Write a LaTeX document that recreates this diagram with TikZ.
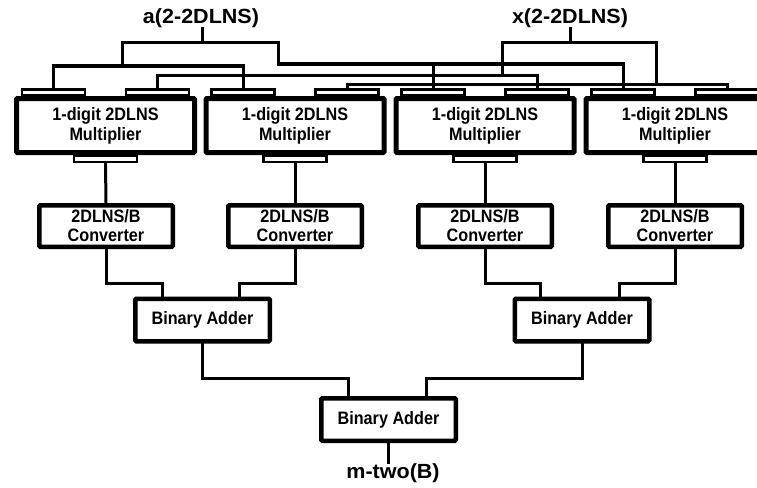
\documentclass[tikz,border=0pt]{standalone}
\usepackage{fontspec}
\setmainfont{Liberation Sans}
\newfontfamily\boxfont{Liberation Sans}[FakeStretch=0.9]
\newfontfamily\labfont{Liberation Sans}[FakeStretch=1.05]
\begin{document}
\begin{tikzpicture}[x=1pt,y=-1pt,
  box/.style={draw, line width=4.5pt, rounded corners=1pt, inner sep=0pt, align=center, font=\boxfont\bfseries\fontsize{18}{19}\selectfont},
  multbox/.style={box, line width=5pt, minimum width=178pt, minimum height=54pt, font=\boxfont\bfseries\fontsize{18}{20}\selectfont},
  convbox/.style={box, minimum width=133.5pt, minimum height=41.5pt},
  addbox/.style={box, minimum width=134.5pt, minimum height=42.5pt},
  port/.style={draw, line width=2.5pt, minimum width=63pt, minimum height=6pt, inner sep=0pt},
  wire/.style={line width=3pt, line cap=rect},
  iolabel/.style={inner sep=0.5pt, font=\labfont\bfseries\fontsize{20.5}{24}\selectfont}]
\clip (0,0) rectangle (757,487);
\fill[white] (0,0) rectangle (757,487);

% multipliers with ports
\foreach \n/\cx in {1/105.5,2/295,3/485,4/675} {
  \node[multbox] (M\n) at (\cx,125.5) {1-digit 2DLNS\\Multiplier};
  \node[port] (Ma\n) at (\cx-52,92.5) {};
  \node[port] (Mb\n) at (\cx+52,92.5) {};
  \node[port] (Mo\n) at (\cx,159) {};
}
% converters
\foreach \n/\cx in {1/106,2/295,3/485,4/675} {
  \node[convbox] (C\n) at (\cx,226) {2DLNS/B\\Converter};
}
% adders
\node[addbox] (A1) at (202.5,320) {Binary Adder};
\node[addbox] (A2) at (582,320) {Binary Adder};
\node[addbox] (A3) at (388.5,419.5) {Binary Adder};

% labels
\node[iolabel, anchor=base] (alab) at (201,24) {a(2-2DLNS)};
\node[iolabel, anchor=base] (xlab) at (570,24) {x(2-2DLNS)};
\node[iolabel, anchor=base] (mlab) at (393,478) {m-two(B)};

% junction points
\coordinate (aT) at (202,43);
\coordinate (aL) at (122,66);
\coordinate (aR) at (278,64);
\coordinate (xT) at (570,43);
\coordinate (xL) at (502,75);
\coordinate (xR) at (656,84);

% input a
\draw[wire] (alab.south -| aT) -- (aT);
\draw[wire] (aL) |- (aT) -| (aR);
\draw[wire] (Ma1.north) |- (aL) -| (Ma2.north);
\draw[wire] (aR) -| (Ma4.north);
\draw[wire] (Ma3.north) -- (Ma3.north |- aR);
% input x
\draw[wire] (xlab.south) -- (xT);
\draw[wire] (xL) |- (xT) -| (xR);
\draw[wire] (Mb1.north) |- (xL) -| (Mb3.north);
\draw[wire] (Mb2.north) |- (xR) -| (Mb4.north);

% multipliers to converters
\foreach \i in {1,2,3,4} \draw[wire] (Mo\i.south) -- (C\i.north);
% converters to adders
\draw[wire] (C1.south) -- ++(0,34) -| ([xshift=-40pt]A1.north);
\draw[wire] (C2.south) -- ++(0,34) -| ([xshift=37pt]A1.north);
\draw[wire] (C3.south) -- ++(0,34) -| ([xshift=-42pt]A2.north);
\draw[wire] (C4.south) -- ++(0,34) -| ([xshift=37pt]A2.north);
% adders to final adder
\draw[wire] (A1.south) -- ++(0,35) -| ([xshift=-40.5pt]A3.north);
\draw[wire] (A2.south) -- ++(0,35) -| ([xshift=37.5pt]A3.north);
\draw[wire] (A3.south) -- (A3.south |- mlab.north);
\end{tikzpicture}
\end{document}
